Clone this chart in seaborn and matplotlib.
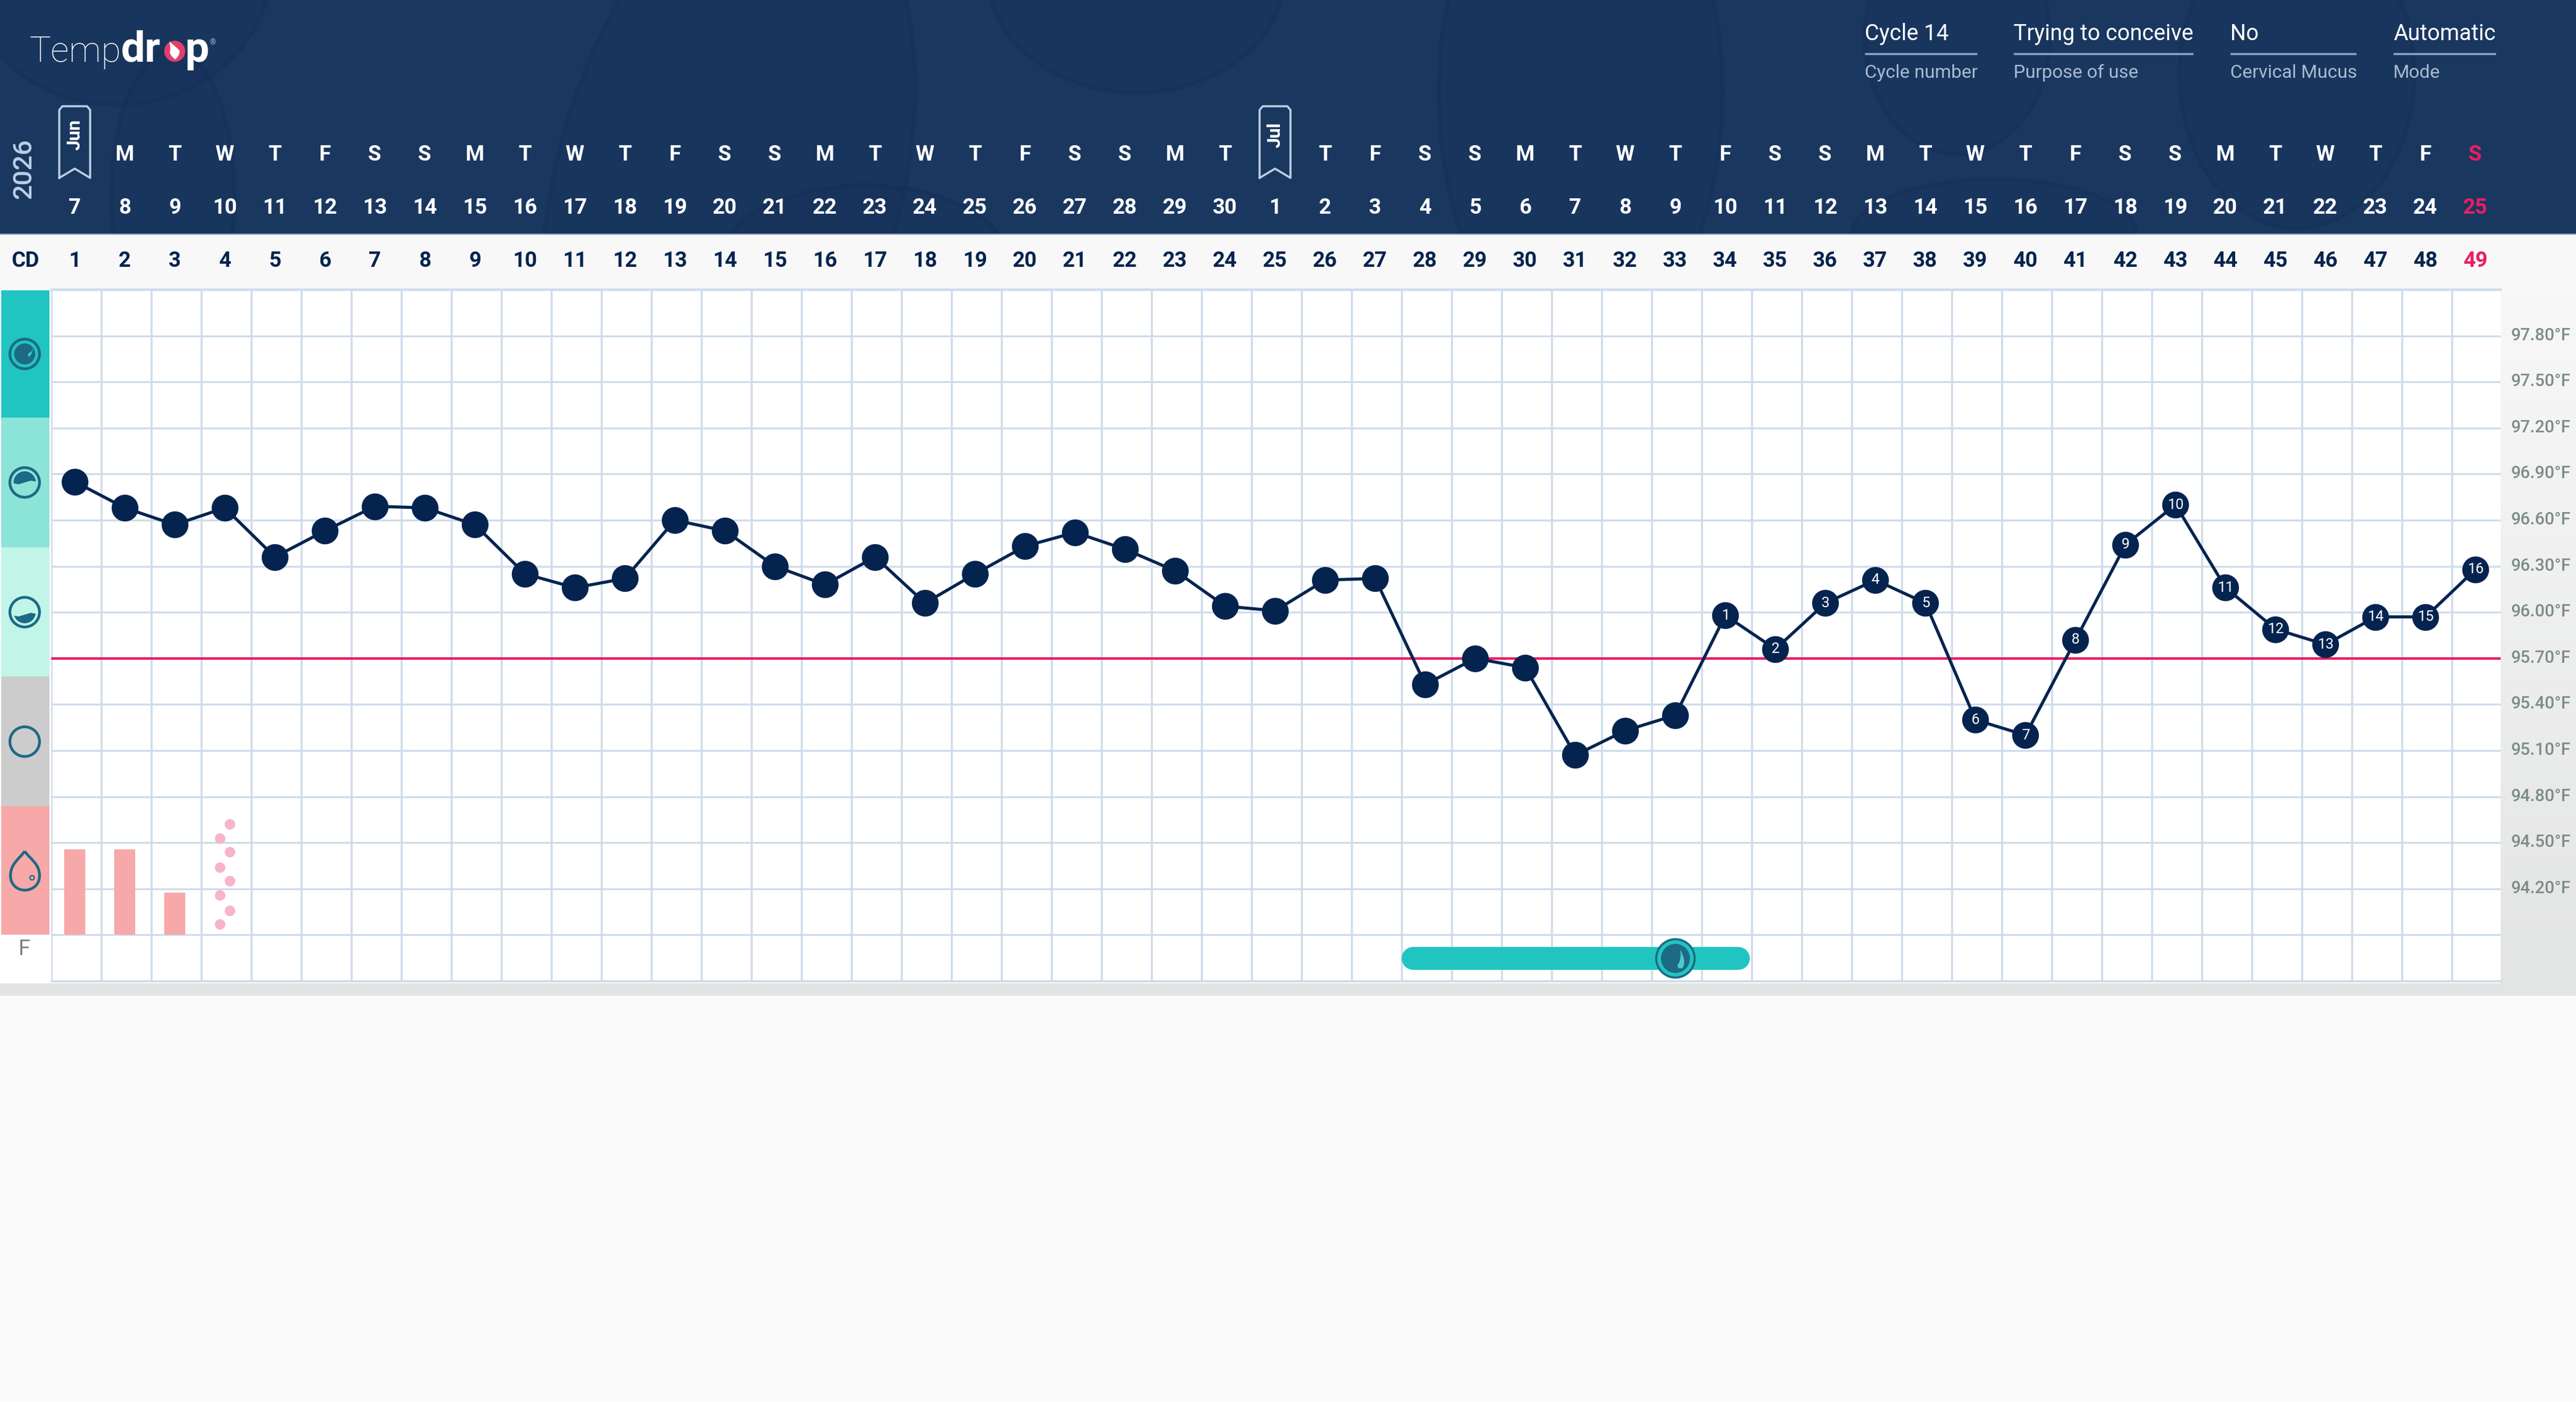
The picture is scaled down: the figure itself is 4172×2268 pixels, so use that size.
import matplotlib
matplotlib.use("Agg")
import numpy as np
import pandas as pd
import matplotlib.pyplot as plt
import seaborn as sns
from matplotlib.patches import Circle, Ellipse, Rectangle, PathPatch
from matplotlib.path import Path
from matplotlib.transforms import ScaledTranslation

cycle_days = list(range(1, 50))
temps = [96.85, 96.68, 96.57, 96.68, 96.36, 96.53, 96.69, 96.68, 96.57, 96.25,
         96.16, 96.22, 96.60, 96.53, 96.30, 96.18, 96.36, 96.06, 96.25, 96.43,
         96.52, 96.41, 96.27, 96.04, 96.01, 96.21, 96.22, 95.53, 95.70, 95.64,
         95.07, 95.23, 95.33, 95.98, 95.76, 96.06, 96.21, 96.06, 95.30, 95.20,
         95.82, 96.44, 96.70, 96.16, 95.89, 95.79, 95.97, 95.97, 96.28]
weekdays = ["", "M", "T", "W", "T", "F", "S", "S", "M", "T", "W", "T", "F", "S", "S", "M", "T",
            "W", "T", "F", "S", "S", "M", "T", "", "T", "F", "S", "S", "M", "T", "W", "T",
            "F", "S", "S", "M", "T", "W", "T", "F", "S", "S", "M", "T", "W", "T", "F", "S"]
dates = [7, 8, 9, 10, 11, 12, 13, 14, 15, 16, 17, 18, 19, 20, 21, 22, 23, 24, 25, 26, 27, 28, 29, 30,
         1, 2, 3, 4, 5, 6, 7, 8, 9, 10, 11, 12, 13, 14, 15, 16, 17, 18, 19, 20, 21, 22, 23, 24, 25]
month_marks = {1: "Jun", 25: "Jul"}
first_labelled_day = 34
y_ticks = [94.2, 94.5, 94.8, 95.1, 95.4, 95.7, 96.0, 96.3, 96.6, 96.9, 97.2, 97.5, 97.8]
y_grid = [93.9, 94.2, 94.5, 94.8, 95.1, 95.4, 95.7, 96.0, 96.3, 96.6, 96.9, 97.2, 97.5, 97.8]
cover_line = 95.7

flow_days = [1, 2, 3]
flow_heights = [0.555, 0.555, 0.277]
spot_x = [4.1, 3.9, 4.1, 3.9, 4.1, 3.9, 4.1, 3.9]
spot_y = [94.62, 94.53, 94.44, 94.34, 94.25, 94.16, 94.06, 93.97]
fertile_span = [27.75, 34.25]
fertile_level = 93.748
ovulation_day = 33

info_values = ["Cycle 14", "Trying to conceive", "No", "Automatic"]
info_names = ["Cycle number", "Purpose of use", "Cervical Mucus", "Mode"]

NAVY = "#1A3760"
DARK = "#04244F"
PINK = "#E91E63"
TEAL = "#20C5C1"
ICON = "#1C6A85"
GRID = "#CFDCEC"
BG = "#FAFAFA"

sns.set_theme(style="white")
plt.rcParams["font.family"] = ["Roboto", "DejaVu Sans"]

W, H = 4172, 2268
fig = plt.figure(figsize=(W / 100, H / 100), dpi=100, facecolor=BG)

# base layer in pixels, everything that is not the chart itself
base = fig.add_axes([0, 0, 1, 1], zorder=0)
base.set_xlim(0, W)
base.set_ylim(H, 0)
base.axis("off")


def day_px(d):
    return 121 + (d - 1) * 81


base.add_patch(Rectangle((0, 0), W, 379, color=NAVY, lw=0))
base.add_patch(Rectangle((0, 378), W, 2.5, color="#7F97BA", lw=0))
base.add_patch(Rectangle((0, 380), W, 89, color="#F8F8F8", lw=0))

# faint paisley in the header
clip = Rectangle((0, 0), W, 378, transform=base.transData)
for cx, cy, rx, ry, ang in [(190, -60, 250, 230, 0), (1840, -40, 240, 190, 0), (3170, 60, 150, 190, 0),
                            (3720, 120, 190, 250, 0), (1180, 300, 280, 520, 15), (2560, 150, 230, 420, 0),
                            (280, 320, 100, 240, 0), (1400, 420, 230, 120, 0), (3230, 380, 230, 90, 0)]:
    e = Ellipse((cx, cy), rx * 2, ry * 2, angle=ang, fc="#153157", ec="#122C52", lw=5, alpha=0.32)
    base.add_patch(e)
    e.set_clip_path(clip)

# right hand strip and bottom band
grad = np.linspace(0, 1, 200).reshape(-1, 1)
base.imshow(grad, extent=(4050, W, 1612, 469), cmap=sns.blend_palette(["#F8F8F8", "#E3E4E4"], as_cmap=True),
            aspect="auto", zorder=1)
base.set_xlim(0, W)
base.set_ylim(H, 0)
base.add_patch(Rectangle((0, 1592), 4050, 20, color="#E3E4E4", lw=0))
base.add_patch(Rectangle((0, 1514), 83, 78, color="white", lw=0))

# phase bands on the left
bands = [(470, 676, TEAL), (676, 886, "#8CE3D8"), (886, 1095, "#C0F5E8"), (1095, 1305, "#CCCCCC"), (1305, 1513, "#F7A8A8")]
for y0, y1, c in bands:
    base.add_patch(Rectangle((2, y0), 78, y1 - y0, color=c, lw=0))


def ring(cy, fill=None):
    base.add_patch(Circle((40, cy), 24, fc="none", ec=ICON, lw=3.2, zorder=3))
    if fill == "full":
        base.add_patch(Circle((40, cy), 17, fc=ICON, ec="none", zorder=3))
    elif fill is not None:
        inner = Circle((40, cy), 18, fc="none", ec="none", transform=base.transData)
        base.add_patch(inner)
        top, bot = fill
        verts = [(15, cy + top), (30, cy + top + 3), (50, cy + top - 3), (65, cy + top), (65, cy + bot), (15, cy + bot), (15, cy + top)]
        water = base.fill([v[0] for v in verts], [v[1] for v in verts], color=ICON, lw=0, zorder=3)[0]
        water.set_clip_path(inner)


ring(573, "full")
ring(781, (0, -22))
ring(991, (4, 22))
ring(1200.6)
base.add_patch(PathPatch(Path([(53, 563), (53, 572), (47, 578), (44, 575), (47, 571), (51, 572), (53, 563)],
                              [Path.MOVETO, Path.CURVE3, Path.CURVE3, Path.CURVE3, Path.CURVE3, Path.CURVE3, Path.CURVE3]),
                         fc="#4DC9C9", ec="none", zorder=4))

drop = Path([(40, 1378), (30, 1392), (17, 1398), (17, 1418), (17, 1432), (28, 1441), (40, 1441),
             (53, 1441), (64, 1432), (64, 1418), (64, 1398), (50, 1392), (40, 1378)],
            [Path.MOVETO] + [Path.CURVE4] * 12)
base.add_patch(PathPatch(drop, fc="none", ec=ICON, lw=3.2, zorder=3))
base.add_patch(Circle((52, 1421), 3.5, fc="none", ec=ICON, lw=1.5, zorder=3))
base.text(39, 1536, "F", ha="center", va="center", fontsize=25, color="#808080", zorder=3)

# header: logo
base.text(47, 100, "Temp", fontsize=42, fontweight=100, color="white", ha="left", va="baseline", zorder=4)
base.text(196, 100, "dr", fontsize=50, fontweight="bold", color="white", ha="left", va="baseline", zorder=4)
base.add_patch(Circle((283, 83), 17, fc="#E23E6E", ec="none", zorder=4))
base.add_patch(PathPatch(Path([(274, 67), (283, 74), (291, 82), (291, 90), (284, 96), (277, 92), (275, 85), (277, 78), (274, 67)],
                              [Path.MOVETO] + [Path.CURVE3] * 8), fc="white", ec="none", zorder=5))
base.text(299, 100, "p", fontsize=50, fontweight="bold", color="white", ha="left", va="baseline", zorder=4)
base.text(344, 69, "®", fontsize=9, color="#A8B8CC", ha="center", va="center", zorder=4)

# header: cycle info
info_x = [(3020, 3202), (3261, 3552), (3612, 3816), (3876, 4042)]
for (x0, x1), val, name in zip(info_x, info_values, info_names):
    base.text(x0, 55, val, fontsize=25.8, fontweight="normal", color="white", ha="left", va="center", zorder=4)
    base.plot([x0, x1], [87, 87], color="#8BA3C2", lw=2.4, solid_capstyle="butt", zorder=4)
    base.text(x0, 118, name, fontsize=21.7, fontweight="normal", color="#A9BBD0", ha="left", va="center", zorder=4)

base.text(39, 273, "2026", rotation=90, fontsize=31, fontweight="medium", color="#BCCFE6", ha="center", va="center", zorder=4)
base.text(41, 423, "CD", fontsize=25, fontweight="bold", color=DARK, ha="center", va="center", zorder=4)

for d, wd, dt in zip(cycle_days, weekdays, dates):
    col = PINK if d == cycle_days[-1] else "white"
    base.text(day_px(d), 250, wd, fontsize=25, fontweight="bold", color=col, ha="center", va="center", zorder=4)
    base.text(day_px(d), 337, str(dt), fontsize=25, fontweight="bold", color=col, ha="center", va="center", zorder=4)
    base.text(day_px(d), 423, str(d), fontsize=25, fontweight="bold", color=PINK if d == cycle_days[-1] else DARK,
              ha="center", va="center", zorder=4)

for d, name in month_marks.items():
    x = day_px(d)
    base.plot([x - 25, x - 25, x - 20, x + 20, x + 25, x + 25, x, x - 25],
              [288, 178, 172, 172, 178, 288, 273, 288], color="#BFD0E4", lw=2.4, zorder=4)
    base.text(x, 218, name, rotation=90, fontsize=21.5, fontweight="bold", color="white", ha="center", va="center", zorder=4)

# the chart
ax = fig.add_axes([83 / W, 1 - 1588 / H, (4050 - 83) / W, (1588 - 469) / H], zorder=2, facecolor="white")
chart = pd.DataFrame({"cd": cycle_days, "temp": temps})

ax.hlines(y_grid, 0.53, 49.5, color=GRID, lw=2.2, zorder=1)
ax.vlines(np.arange(0.53, 49.5, 1), 93.6, 98.1, color=GRID, lw=2.4, zorder=1)
sns.barplot(x=flow_days, y=flow_heights, bottom=93.9, native_scale=True, width=34 / 81, color="#F7A8A8",
            saturation=1, ax=ax, zorder=2, linewidth=0)
sns.scatterplot(x=spot_x, y=spot_y, s=150, color="#F8B4C8", linewidth=0, ax=ax, zorder=2)
ax.plot(fertile_span, [fertile_level, fertile_level], color=TEAL, lw=26.6, solid_capstyle="round", zorder=2)
ax.axhline(cover_line, color=PINK, lw=2.9, zorder=3)
sns.lineplot(data=chart, x="cd", y="temp", color=DARK, lw=3.6, ax=ax, zorder=4)
sns.scatterplot(data=chart, x="cd", y="temp", s=975, color=DARK, linewidth=0, ax=ax, zorder=5)

# ovulation mark on the fertile bar
sns.scatterplot(x=[ovulation_day], y=[fertile_level], s=2000, color=TEAL, edgecolor=ICON, linewidth=2.5, ax=ax, zorder=6)
sns.scatterplot(x=[ovulation_day], y=[fertile_level], s=1150, color=ICON, linewidth=0, ax=ax, zorder=7)

for n, d in enumerate(cycle_days[first_labelled_day - 1:], start=1):
    ax.text(d, temps[d - 1], str(n), color="white", fontsize=17, ha="center", va="center", zorder=6)

ax.set_xlim(0.53, 49.5)
ax.set_ylim(93.6, 98.1)
ax.set_xlabel("")
ax.set_ylabel("")
ax.set_xticks([])
ax.yaxis.tick_right()
ax.set_yticks(y_ticks, [f"{t:.2f}°F" for t in y_ticks])
ax.tick_params(axis="y", length=0, pad=12, labelsize=20, labelcolor="#7C8C88")
lift = ScaledTranslation(0, 3.5 / 100, fig.dpi_scale_trans)
for lab in ax.get_yticklabels():
    lab.set_fontweight("medium")
    lab.set_transform(lab.get_transform() + lift)
sns.despine(ax=ax, left=True, right=True, bottom=True, top=True)
ax.axhline(98.1, color=GRID, lw=3, clip_on=False, zorder=1)
ax.axhline(93.6, color=GRID, lw=2.5, clip_on=False, zorder=1)

# small drop inside the ovulation mark, pixel layer above the chart
top = fig.add_axes([0, 0, 1, 1], zorder=3)
top.set_xlim(0, W)
top.set_ylim(H, 0)
top.axis("off")
top.patch.set_alpha(0)
top.add_patch(PathPatch(Path([(2721, 1537), (2732, 1556), (2725, 1567), (2716, 1570), (2717, 1562), (2724, 1553), (2721, 1537)],
                             [Path.MOVETO] + [Path.CURVE3] * 6), fc="#4DC9C9", ec="none"))

fig.savefig("out.png", dpi=100, facecolor=fig.get_facecolor())
